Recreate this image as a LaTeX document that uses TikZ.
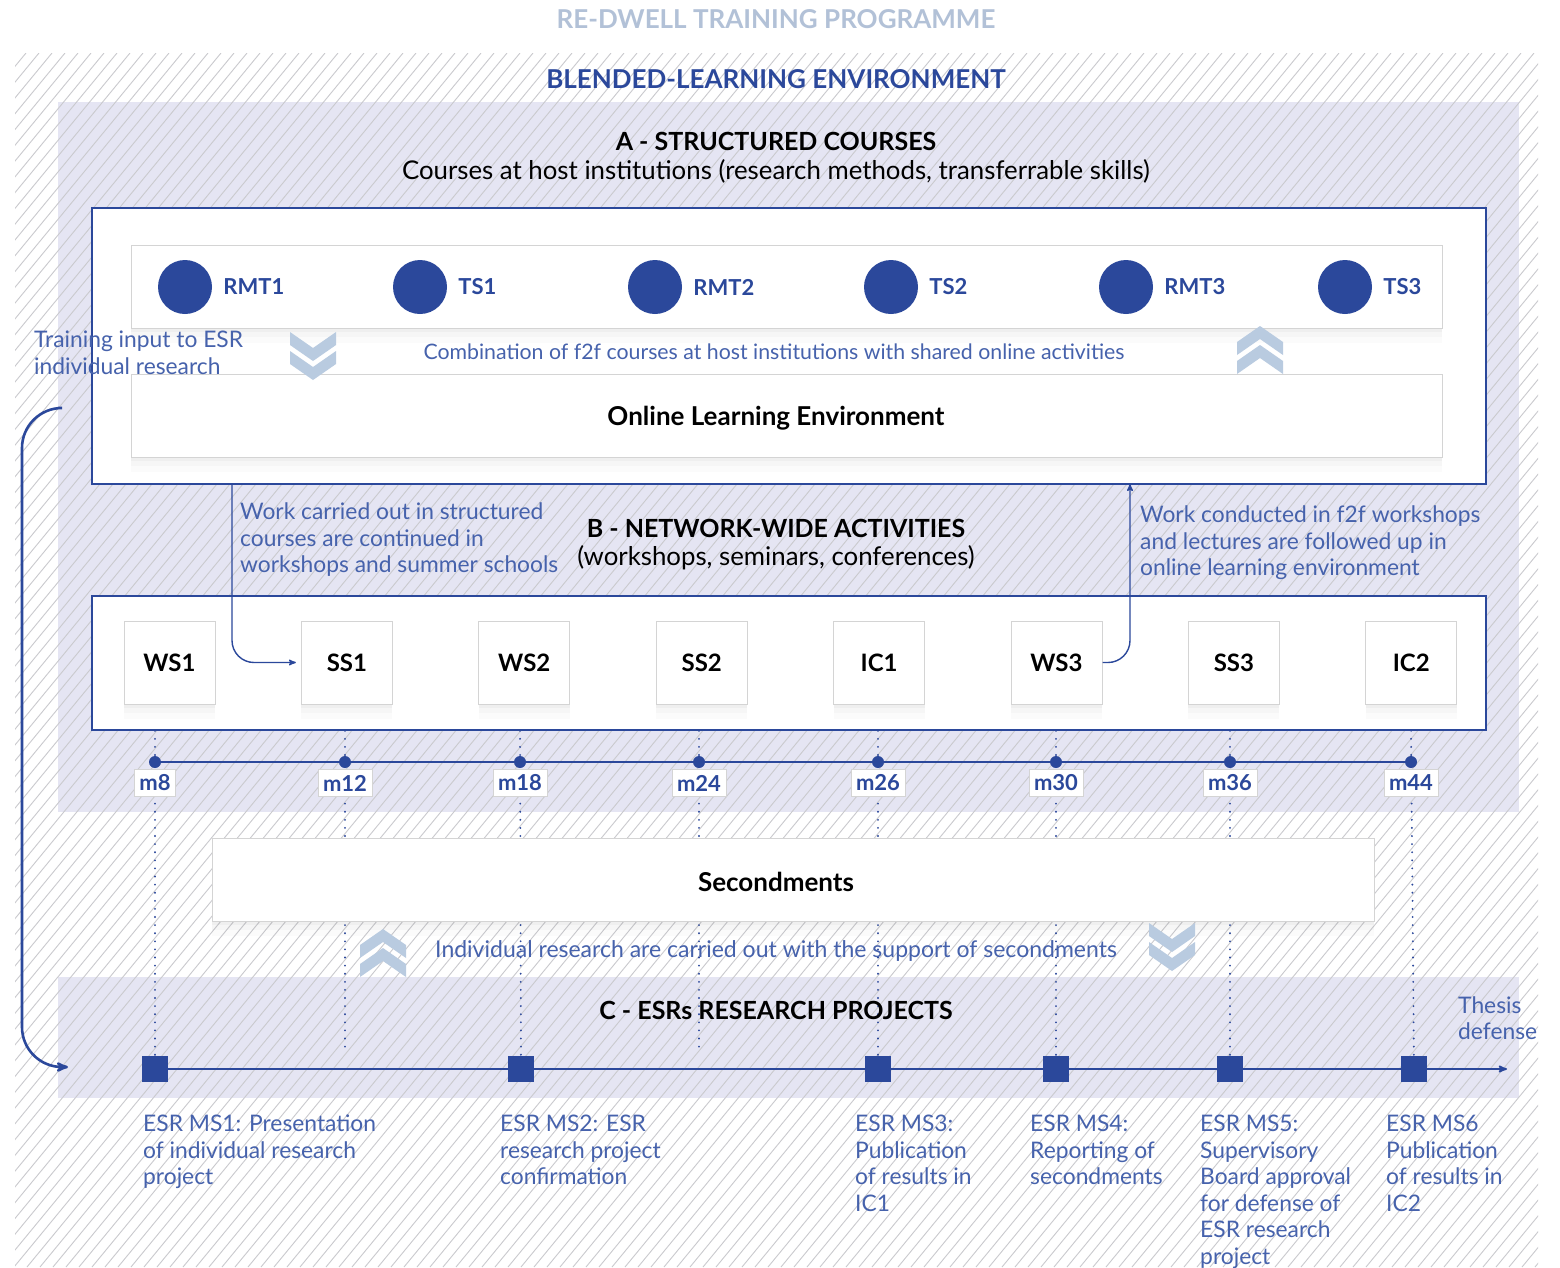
\documentclass[tikz,border=0pt]{standalone}
\usepackage{fontspec}
\setmainfont{Lato}
\usetikzlibrary{positioning,arrows,shadows}

\definecolor{navy}{RGB}{43,72,155}
\definecolor{lblue}{RGB}{70,98,172}
\definecolor{lavender}{RGB}{229,229,243}
\definecolor{chevron}{RGB}{185,203,224}
\definecolor{titlegrey}{RGB}{178,193,215}
\definecolor{hatchgrey}{RGB}{202,202,206}
\definecolor{boxgrey}{RGB}{212,212,212}

\newcommand{\fs}[2]{\fontsize{#1}{#2}\selectfont}

\pgfdeclarelayer{back}
\pgfdeclarelayer{mid}
\pgfsetlayers{back,mid,main}

\tikzset{
  chevdown/.pic={
    \foreach \d in {0,19}
      \fill[chevron] (-23,\d) -- (0,\d+16) -- (23,\d) -- (23,\d+13) -- (0,\d+29) -- (-23,\d+13) -- cycle;
  },
  chevup/.pic={
    \foreach \d in {0,19}
      \fill[chevron] (-23,-\d) -- (0,-\d-16) -- (23,-\d) -- (23,-\d-13) -- (0,-\d-29) -- (-23,-\d-13) -- cycle;
  }
}

\begin{document}
\begin{tikzpicture}[x=1pt,y=-1pt,>=stealth',on grid,
    blockframe/.style={rectangle,draw=navy,line width=1.3pt,fill=white},
    strip/.style={rectangle,draw=boxgrey,line width=1pt,fill=white,
      drop shadow={opacity=0.05,shadow xshift=0pt,shadow yshift=-4pt},
      drop shadow={opacity=0.04,shadow xshift=0pt,shadow yshift=-9pt},
      drop shadow={opacity=0.03,shadow xshift=0pt,shadow yshift=-15pt}},
    evbox/.style={strip,minimum width=91pt,minimum height=83pt,font=\fs{24}{28}\bfseries},
    course/.style={circle,fill=navy,minimum size=54pt,inner sep=0pt},
    clabel/.style={anchor=west,inner sep=0pt,font=\fs{22}{26}\bfseries,text=navy},
    mlabel/.style={fill=white,draw=boxgrey,line width=0.5pt,inner xsep=5pt,minimum height=27pt,font=\fs{22}{24}\bfseries,text=navy},
    note/.style={align=left,inner sep=0pt,text=lblue,font=\fs{22.8}{26.5}},
    head/.style={font=\fs{25}{30}\bfseries},
    sub/.style={font=\fs{25.8}{30}},
    msq/.style={rectangle,fill=navy,minimum size=26pt,inner sep=0pt},
    mdot/.style={circle,fill=navy,minimum size=12pt,inner sep=0pt},
    guide/.style={navy,line width=2pt,dash pattern=on 0.1pt off 8pt,line cap=round},
    flow/.style={->,navy,line width=1.4pt}]
\useasboundingbox (0,0) rectangle (1560,1267);

%% hatched ground and tinted panels
\begin{pgfonlayer}{back}
  \fill[white] (0,0) rectangle (1560,1267);
  \fill[lavender] (58,102) rectangle (1519,812);
  \fill[lavender] (58,977) rectangle (1519,1098);
  \begin{scope}
    \clip (15,53) rectangle (1538,1267);
    \foreach \k in {-1000,-987,...,1545}
      \draw[hatchgrey,line width=0.9pt] (\k,1267) -- ++(1000,-1214);
  \end{scope}
\end{pgfonlayer}

\node[font=\fs{26}{30}\bfseries,text=titlegrey] (prog) at (776,19) {RE-DWELL TRAINING PROGRAMME};
\node[font=\fs{26}{30}\bfseries,text=navy] (blend) at (776,79) {BLENDED-LEARNING ENVIRONMENT};

%% A - structured courses
\node[head] (atitle) at (776,141) {A - STRUCTURED COURSES};
\node[sub]  (asub)   at (776,171) {Courses at host institutions (research methods, transferrable skills)};
\node[blockframe,minimum width=1394pt,minimum height=276pt] (boxA) at (789,346) {};
\node[strip,minimum width=1311pt,minimum height=83pt] (courses) at (786.5,286.5) {};
\node[strip,minimum width=1311pt,minimum height=83pt] (online) at (786.5,415.5) {};
\node[font=\fs{26}{30}\bfseries] (onlinetxt) at (776,418) {Online Learning Environment};

\node[course] (rmt1) at (185,287) {};
\node[course,right=235pt of rmt1] (ts1)  {};
\node[course,right=235pt of ts1]  (rmt2) {};
\node[course,right=236pt of rmt2] (ts2)  {};
\node[course,right=235pt of ts2]  (rmt3) {};
\node[course,right=219pt of rmt3] (ts3)  {};
\foreach \n/\t in {rmt1/RMT1,ts1/TS1,rmt2/RMT2,ts2/TS2,rmt3/RMT3,ts3/TS3}
  \node[clabel] (l\n) at ([xshift=11pt]\n.east) {\t};

\node[note,anchor=west] (train) at (34,353) {Training input to ESR\\individual research};
\node[font=\fs{21.3}{24},text=lblue] (combi) at (774,352) {Combination of f2f courses at host institutions with shared online activities};
\pic at (313,332) {chevdown};
\pic at (1260,374) {chevup};

%% B - network-wide activities
\node[head] (btitle) at (776,528) {B - NETWORK-WIDE ACTIVITIES};
\node[sub]  (bsub)   at (776,558) {(workshops, seminars, conferences)};
\node[note,anchor=west] (carried) at (240,540) {Work carried out in structured\\courses are continued in\\workshops and summer schools};
\node[note,anchor=west] (conducted) at (1140,543) {Work conducted in f2f workshops\\and lectures are followed up in\\online learning environment};
\node[blockframe,minimum width=1394pt,minimum height=134pt] (boxB) at (789,663) {};

\begin{scope}[node distance=177.4pt]
\node[evbox] (ws1) at (169.5,662.5) {WS1};
\node[evbox,right=of ws1] (ss1) {SS1};
\node[evbox,right=of ss1] (ws2) {WS2};
\node[evbox,right=of ws2] (ss2) {SS2};
\node[evbox,right=of ss2] (ic1) {IC1};
\node[evbox,right=of ic1] (ws3) {WS3};
\node[evbox,right=of ws3] (ss3) {SS3};
\node[evbox,right=of ss3] (ic2) {IC2};
\end{scope}

\coordinate (adown) at (232,484);
\coordinate (aup)   at (1130,484);
\draw[flow,rounded corners=22pt,shorten >=5pt] (adown) |- (ss1.west);
\draw[flow,rounded corners=22pt] (ws3.east) -| (aup);

%% months
\foreach \x/\m in {155/8,345/12,520/18,699/24,878/26,1056/30,1230/36,1411/44}{
  \node[mdot]   (d\m) at (\x,762) {};
  \node[mlabel] (m\m) at (\x,783) {m\m};
}

%% secondments
\node[strip,minimum width=1162pt,minimum height=83pt] (second) at (793,879.5) {};
\node[font=\fs{26}{30}\bfseries] (secondtxt) at (776,882) {Secondments};
\node[font=\fs{23}{26},text=lblue] (indiv) at (776,951) {Individual research are carried out with the support of secondments};
\pic at (383,977) {chevup};
\pic at (1172,923) {chevdown};

%% C - ESR research projects
\node[head] (ctitle) at (776,1010) {C - ESRs RESEARCH PROJECTS};
\node[msq] (ms1) at (155,1069) {};
\node[msq] (ms2) at (521,1069) {};
\node[msq] (ms3) at (878,1069) {};
\node[msq] (ms4) at (1056,1069) {};
\node[msq] (ms5) at (1230,1069) {};
\node[msq] (ms6) at (1414,1069) {};
\coordinate (thesis) at (1507,1069);
\coordinate (e12) at (345,1053);
\coordinate (e24) at (699,1053);
\node[note,anchor=west] (defense) at (1458,1018) {Thesis\\defense};

\node[note,anchor=north west] (t1) at (143,1115) {ESR MS1: Presentation\\of individual research\\project};
\node[note,anchor=north west] (t2) at (500,1115) {ESR MS2: ESR\\research project\\confirmation};
\node[note,anchor=north west] (t3) at (855,1115) {ESR MS3:\\Publication\\of results in\\IC1};
\node[note,anchor=north west] (t4) at (1030,1115) {ESR MS4:\\Reporting of\\secondments};
\node[note,anchor=north west] (t5) at (1200,1115) {ESR MS5:\\Supervisory\\Board approval\\for defense of\\ESR research\\project};
\node[note,anchor=north west] (t6) at (1386,1115) {ESR MS6\\Publication\\of results in\\IC2};

\begin{pgfonlayer}{mid}
  \draw[guide] (boxB.south -| d8)  -- (ms1);
  \draw[guide] (boxB.south -| d12) -- (e12);
  \draw[guide] (boxB.south -| d18) -- (ms2);
  \draw[guide] (boxB.south -| d24) -- (e24);
  \draw[guide] (boxB.south -| d26) -- (ms3);
  \draw[guide] (boxB.south -| d30) -- (ms4);
  \draw[guide] (boxB.south -| d36) -- (ms5);
  \draw[guide] (boxB.south -| d44) -- (ms6);
  \draw[navy,line width=1.8pt] (d8) -- (d44);
  \draw[flow,line width=1.8pt] (ms1) -- (thesis);
\end{pgfonlayer}

%% feedback loop into research projects
\coordinate (loopstart) at (58,408);
\coordinate (loopend)   at (68,1067);
\draw[flow,line width=2.6pt,rounded corners=40pt] (loopstart) -| (22,1067) -- (loopend);
\end{tikzpicture}
\end{document}
